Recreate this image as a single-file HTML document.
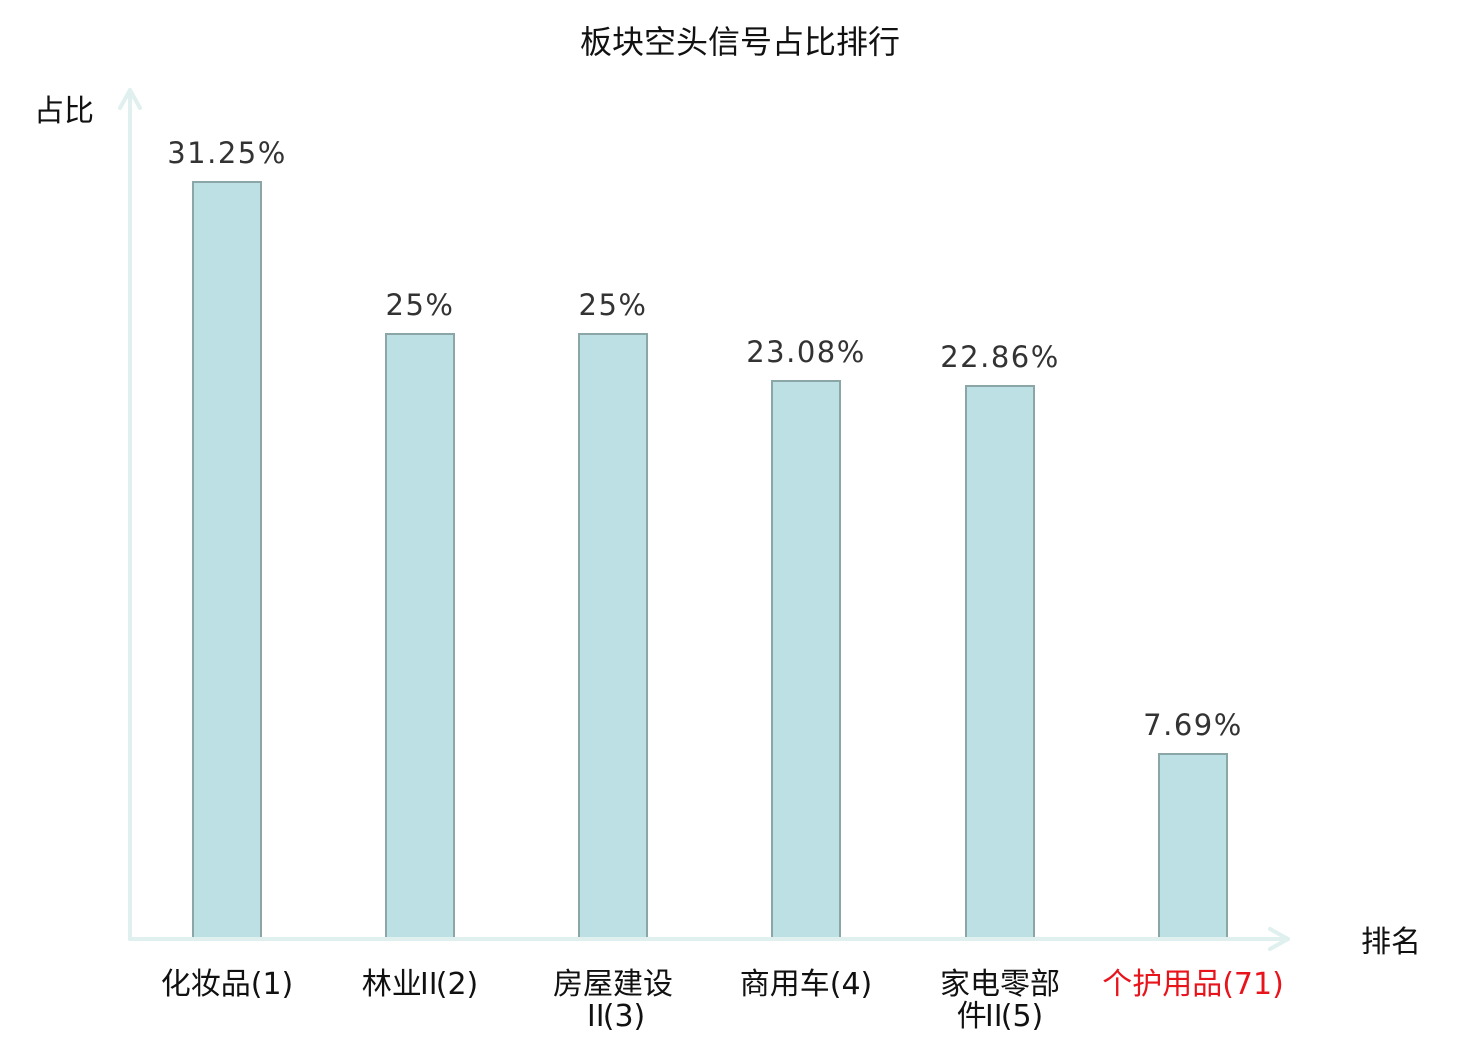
<!DOCTYPE html>
<html>
<head>
<meta charset="utf-8">
<style>
  html,body{margin:0;padding:0;background:#fff;}
  svg{display:block;}
  .cjk{font-family:"WenQuanYi Zen Hei","Noto Sans CJK SC",sans-serif;}
  .lat{font-family:"DejaVu Sans ExtraLight","DejaVu Sans","Liberation Sans",sans-serif;font-weight:normal;}
  .val{font-family:"DejaVu Sans","Liberation Sans",sans-serif;font-size:29px;fill:#333;letter-spacing:1.5px;}
</style>
</head>
<body>
<svg width="1480" height="1040" viewBox="0 0 1480 1040" xmlns="http://www.w3.org/2000/svg">
  <rect width="1480" height="1040" fill="#fff"/>
  <!-- title -->
  <text class="cjk" x="740" y="53" font-size="32" text-anchor="middle" fill="#111">板块空头信号占比排行</text>
  <!-- axis labels -->
  <text class="cjk" x="34" y="121" font-size="30" fill="#111">占比</text>
  <text class="cjk" x="1361" y="952" font-size="30" fill="#111">排名</text>

  <!-- bars -->
  <g fill="#bce0e3" stroke="#8aa6a7" stroke-width="2">
    <rect x="193" y="182" width="68" height="757"/>
    <rect x="386" y="334" width="68" height="605"/>
    <rect x="579" y="334" width="68" height="605"/>
    <rect x="772" y="381" width="68" height="558"/>
    <rect x="966" y="386" width="68" height="553"/>
    <rect x="1159" y="754" width="68" height="185"/>
  </g>

  <!-- axes -->
  <g stroke="#dff0ee" stroke-width="4" fill="none" stroke-linecap="round" stroke-linejoin="round">
    <line x1="130" y1="90" x2="130" y2="939"/>
    <polyline points="120,108 130,90 140,108"/>
    <line x1="130" y1="939" x2="1288" y2="939"/>
    <polyline points="1270,929 1288,939 1270,949"/>
  </g>

  <!-- value labels -->
  <text class="val" x="227" y="163" text-anchor="middle">31.25%</text>
  <text class="val" x="420" y="315" text-anchor="middle">25%</text>
  <text class="val" x="613" y="315" text-anchor="middle">25%</text>
  <text class="val" x="806" y="362" text-anchor="middle">23.08%</text>
  <text class="val" x="1000" y="367" text-anchor="middle">22.86%</text>
  <text class="val" x="1193" y="735" text-anchor="middle">7.69%</text>

  <!-- category labels -->
  <g class="cjk" font-size="30" fill="#111" text-anchor="middle">
    <text x="227" y="994">化妆品<tspan class="lat">(1)</tspan></text>
    <text x="420" y="994">林业<tspan dx="-8">Ⅱ</tspan><tspan class="lat" dx="-8">(2)</tspan></text>
    <text x="613" y="994">房屋建设</text>
    <text x="613" y="1026"><tspan>Ⅱ</tspan><tspan class="lat" dx="-8">(3)</tspan></text>
    <text x="806" y="994">商用车<tspan class="lat">(4)</tspan></text>
    <text x="1000" y="994">家电零部</text>
    <text x="1000" y="1026">件<tspan dx="-8">Ⅱ</tspan><tspan class="lat" dx="-8">(5)</tspan></text>
    <text x="1193" y="994" fill="#e8141c">个护用品<tspan class="lat">(71)</tspan></text>
  </g>
</svg>
</body>
</html>
